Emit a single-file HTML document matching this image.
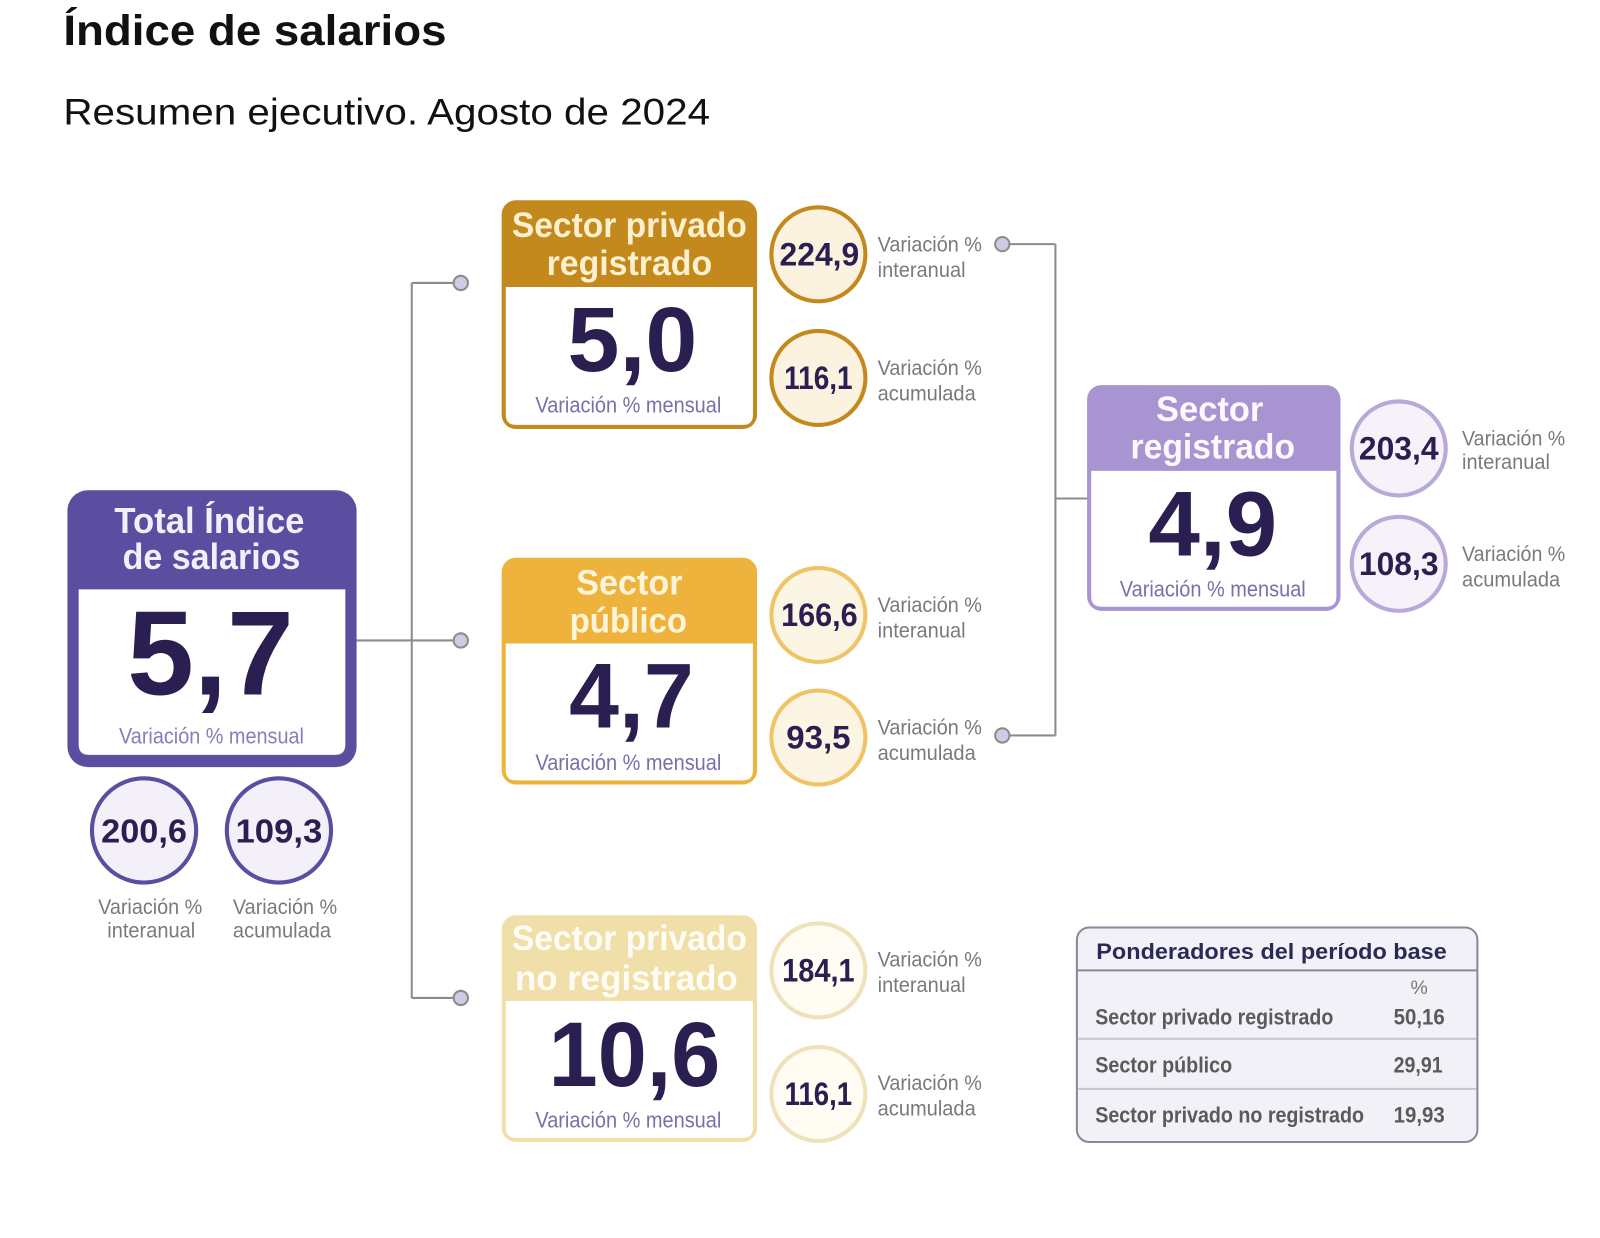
<!DOCTYPE html>
<html>
<head>
<meta charset="utf-8">
<style>
  html,body{margin:0;padding:0;background:#ffffff;}
  svg{display:block;}
  text{font-family:"Liberation Sans", Arial, sans-serif;}
</style>
</head>
<body>
<svg width="1600" height="1238" viewBox="0 0 1566 1212" preserveAspectRatio="none" xmlns="http://www.w3.org/2000/svg">
  <rect x="0" y="0" width="1566" height="1212" fill="#ffffff"/>

  <!-- Titles -->
  <text x="62" y="44" font-size="42" font-weight="bold" fill="#111" textLength="375" lengthAdjust="spacingAndGlyphs">Índice de salarios</text>
  <text x="62" y="122" font-size="36" fill="#111" textLength="633" lengthAdjust="spacingAndGlyphs">Resumen ejecutivo. Agosto de 2024</text>

  <!-- Left connectors -->
  <g stroke="#8c8c8c" stroke-width="2" fill="none">
    <line x1="349" y1="627" x2="445" y2="627"/>
    <line x1="403" y1="277" x2="403" y2="977"/>
    <line x1="403" y1="277" x2="445" y2="277"/>
    <line x1="403" y1="977" x2="445" y2="977"/>
  </g>
  <g fill="#d2cae4" stroke="#8c8c8c" stroke-width="2">
    <circle cx="451" cy="277" r="7"/>
    <circle cx="451" cy="627" r="7"/>
    <circle cx="451" cy="977" r="7"/>
  </g>

  <!-- Right connectors -->
  <g stroke="#8c8c8c" stroke-width="2" fill="none">
    <line x1="988" y1="239" x2="1033" y2="239"/>
    <line x1="1033" y1="239" x2="1033" y2="720"/>
    <line x1="988" y1="720" x2="1033" y2="720"/>
    <line x1="1033" y1="488" x2="1065" y2="488"/>
  </g>
  <g fill="#d2cae4" stroke="#8c8c8c" stroke-width="2">
    <circle cx="981" cy="239" r="7"/>
    <circle cx="981" cy="720" r="7"/>
  </g>

  <!-- Total box -->
  <rect x="66" y="480" width="283" height="271" rx="20" fill="#5b4d9f"/>
  <path d="M77,577 H338 V729 Q338,739 328,739 H87 Q77,739 77,729 Z" fill="#ffffff"/>
  <text x="205" y="522" font-size="35" font-weight="bold" fill="#f3effa" text-anchor="middle" textLength="186" lengthAdjust="spacingAndGlyphs">Total Índice</text>
  <text x="207" y="557" font-size="35" font-weight="bold" fill="#f3effa" text-anchor="middle" textLength="174" lengthAdjust="spacingAndGlyphs">de salarios</text>
  <text x="206" y="680" font-size="117" font-weight="bold" fill="#2a1f50" text-anchor="middle" textLength="163" lengthAdjust="spacingAndGlyphs">5,7</text>
  <text x="207" y="728" font-size="22" fill="#8a7cbb" text-anchor="middle" textLength="181" lengthAdjust="spacingAndGlyphs">Variación % mensual</text>

  <!-- Total circles -->
  <circle cx="141" cy="813" r="51" fill="#f3f0f9" stroke="#5b4d9f" stroke-width="4"/>
  <circle cx="273" cy="813" r="51" fill="#f3f0f9" stroke="#5b4d9f" stroke-width="4"/>
  <text x="141" y="825" font-size="33" font-weight="bold" fill="#2a1f50" text-anchor="middle" textLength="84" lengthAdjust="spacingAndGlyphs">200,6</text>
  <text x="273" y="825" font-size="33" font-weight="bold" fill="#2a1f50" text-anchor="middle" textLength="85" lengthAdjust="spacingAndGlyphs">109,3</text>
  <text x="147" y="895" font-size="21" fill="#7a7a7a" text-anchor="middle" textLength="102" lengthAdjust="spacingAndGlyphs">Variación %</text>
  <text x="148" y="918" font-size="21" fill="#7a7a7a" text-anchor="middle" textLength="86" lengthAdjust="spacingAndGlyphs">interanual</text>
  <text x="279" y="895" font-size="21" fill="#7a7a7a" text-anchor="middle" textLength="102" lengthAdjust="spacingAndGlyphs">Variación %</text>
  <text x="276" y="918" font-size="21" fill="#7a7a7a" text-anchor="middle" textLength="96" lengthAdjust="spacingAndGlyphs">acumulada</text>

  <!-- Box 1: Sector privado registrado -->
  <rect x="491" y="196" width="250" height="224" rx="14" fill="#c4891d"/>
  <path d="M495,281 H737 V406 Q737,416 727,416 H505 Q495,416 495,406 Z" fill="#ffffff"/>
  <text x="616" y="232" font-size="34" font-weight="bold" fill="#fdf0cf" text-anchor="middle" textLength="230" lengthAdjust="spacingAndGlyphs">Sector privado</text>
  <text x="616" y="269" font-size="34" font-weight="bold" fill="#fdf0cf" text-anchor="middle" textLength="162" lengthAdjust="spacingAndGlyphs">registrado</text>
  <text x="619" y="363" font-size="90" font-weight="bold" fill="#2a1f50" text-anchor="middle" textLength="127" lengthAdjust="spacingAndGlyphs">5,0</text>
  <text x="615" y="404" font-size="22" fill="#7d6ea9" text-anchor="middle" textLength="182" lengthAdjust="spacingAndGlyphs">Variación % mensual</text>

  <circle cx="801" cy="249" r="46" fill="#fcf2e0" stroke="#c4891d" stroke-width="4"/>
  <circle cx="801" cy="370" r="46" fill="#fcf2e0" stroke="#c4891d" stroke-width="4"/>
  <text x="802" y="260" font-size="32" font-weight="bold" fill="#2a1f50" text-anchor="middle" textLength="78" lengthAdjust="spacingAndGlyphs">224,9</text>
  <text x="801" y="381" font-size="32" font-weight="bold" fill="#2a1f50" text-anchor="middle" textLength="67" lengthAdjust="spacingAndGlyphs">116,1</text>
  <text x="859" y="246" font-size="21" fill="#7a7a7a" textLength="102" lengthAdjust="spacingAndGlyphs">Variación %</text>
  <text x="859" y="271" font-size="21" fill="#7a7a7a" textLength="86" lengthAdjust="spacingAndGlyphs">interanual</text>
  <text x="859" y="367" font-size="21" fill="#7a7a7a" textLength="102" lengthAdjust="spacingAndGlyphs">Variación %</text>
  <text x="859" y="392" font-size="21" fill="#7a7a7a" textLength="96" lengthAdjust="spacingAndGlyphs">acumulada</text>

  <!-- Box 2: Sector público -->
  <rect x="491" y="546" width="250" height="222" rx="14" fill="#edb33d"/>
  <path d="M495,630 H737 V754 Q737,764 727,764 H505 Q495,764 495,754 Z" fill="#ffffff"/>
  <text x="616" y="582" font-size="34" font-weight="bold" fill="#fff4d9" text-anchor="middle" textLength="104" lengthAdjust="spacingAndGlyphs">Sector</text>
  <text x="615" y="619" font-size="34" font-weight="bold" fill="#fff4d9" text-anchor="middle" textLength="115" lengthAdjust="spacingAndGlyphs">público</text>
  <text x="618" y="712" font-size="90" font-weight="bold" fill="#2a1f50" text-anchor="middle" textLength="122" lengthAdjust="spacingAndGlyphs">4,7</text>
  <text x="615" y="754" font-size="22" fill="#7d6ea9" text-anchor="middle" textLength="182" lengthAdjust="spacingAndGlyphs">Variación % mensual</text>

  <circle cx="801" cy="602" r="46" fill="#fdf5e3" stroke="#eec466" stroke-width="4"/>
  <circle cx="801" cy="722" r="46" fill="#fdf5e3" stroke="#eec466" stroke-width="4"/>
  <text x="802" y="613" font-size="32" font-weight="bold" fill="#2a1f50" text-anchor="middle" textLength="75" lengthAdjust="spacingAndGlyphs">166,6</text>
  <text x="801" y="733" font-size="32" font-weight="bold" fill="#2a1f50" text-anchor="middle" textLength="63" lengthAdjust="spacingAndGlyphs">93,5</text>
  <text x="859" y="599" font-size="21" fill="#7a7a7a" textLength="102" lengthAdjust="spacingAndGlyphs">Variación %</text>
  <text x="859" y="624" font-size="21" fill="#7a7a7a" textLength="86" lengthAdjust="spacingAndGlyphs">interanual</text>
  <text x="859" y="719" font-size="21" fill="#7a7a7a" textLength="102" lengthAdjust="spacingAndGlyphs">Variación %</text>
  <text x="859" y="744" font-size="21" fill="#7a7a7a" textLength="96" lengthAdjust="spacingAndGlyphs">acumulada</text>

  <!-- Box 3: Sector privado no registrado -->
  <rect x="491" y="896" width="250" height="222" rx="14" fill="#f0dfa8"/>
  <path d="M495,980 H737 V1104 Q737,1114 727,1114 H505 Q495,1114 495,1104 Z" fill="#ffffff"/>
  <text x="616" y="930" font-size="34" font-weight="bold" fill="#fffdf6" text-anchor="middle" textLength="230" lengthAdjust="spacingAndGlyphs">Sector privado</text>
  <text x="613" y="969" font-size="34" font-weight="bold" fill="#fffdf6" text-anchor="middle" textLength="218" lengthAdjust="spacingAndGlyphs">no registrado</text>
  <text x="621" y="1063" font-size="90" font-weight="bold" fill="#2a1f50" text-anchor="middle" textLength="168" lengthAdjust="spacingAndGlyphs">10,6</text>
  <text x="615" y="1104" font-size="22" fill="#7d6ea9" text-anchor="middle" textLength="182" lengthAdjust="spacingAndGlyphs">Variación % mensual</text>

  <circle cx="801" cy="950" r="46" fill="#fffcf3" stroke="#eee2bb" stroke-width="4"/>
  <circle cx="801" cy="1071" r="46" fill="#fffcf3" stroke="#eee2bb" stroke-width="4"/>
  <text x="801" y="961" font-size="32" font-weight="bold" fill="#2a1f50" text-anchor="middle" textLength="71" lengthAdjust="spacingAndGlyphs">184,1</text>
  <text x="801" y="1082" font-size="32" font-weight="bold" fill="#2a1f50" text-anchor="middle" textLength="66" lengthAdjust="spacingAndGlyphs">116,1</text>
  <text x="859" y="946" font-size="21" fill="#7a7a7a" textLength="102" lengthAdjust="spacingAndGlyphs">Variación %</text>
  <text x="859" y="971" font-size="21" fill="#7a7a7a" textLength="86" lengthAdjust="spacingAndGlyphs">interanual</text>
  <text x="859" y="1067" font-size="21" fill="#7a7a7a" textLength="102" lengthAdjust="spacingAndGlyphs">Variación %</text>
  <text x="859" y="1092" font-size="21" fill="#7a7a7a" textLength="96" lengthAdjust="spacingAndGlyphs">acumulada</text>

  <!-- Sector registrado box -->
  <rect x="1064" y="377" width="248" height="221" rx="14" fill="#a894d0"/>
  <path d="M1068,461 H1308 V584 Q1308,594 1298,594 H1078 Q1068,594 1068,584 Z" fill="#ffffff"/>
  <text x="1184" y="412" font-size="34" font-weight="bold" fill="#fbf9fe" text-anchor="middle" textLength="105" lengthAdjust="spacingAndGlyphs">Sector</text>
  <text x="1187" y="449" font-size="34" font-weight="bold" fill="#fbf9fe" text-anchor="middle" textLength="161" lengthAdjust="spacingAndGlyphs">registrado</text>
  <text x="1187" y="544" font-size="90" font-weight="bold" fill="#2a1f50" text-anchor="middle" textLength="126" lengthAdjust="spacingAndGlyphs">4,9</text>
  <text x="1187" y="584" font-size="22" fill="#7d6ea9" text-anchor="middle" textLength="182" lengthAdjust="spacingAndGlyphs">Variación % mensual</text>

  <circle cx="1369" cy="439" r="46" fill="#f5f2fa" stroke="#b8a9d8" stroke-width="4"/>
  <circle cx="1369" cy="552" r="46" fill="#f5f2fa" stroke="#b8a9d8" stroke-width="4"/>
  <text x="1369" y="450" font-size="32" font-weight="bold" fill="#2a1f50" text-anchor="middle" textLength="78" lengthAdjust="spacingAndGlyphs">203,4</text>
  <text x="1369" y="563" font-size="32" font-weight="bold" fill="#2a1f50" text-anchor="middle" textLength="78" lengthAdjust="spacingAndGlyphs">108,3</text>
  <text x="1431" y="436" font-size="21" fill="#7a7a7a" textLength="101" lengthAdjust="spacingAndGlyphs">Variación %</text>
  <text x="1431" y="459" font-size="21" fill="#7a7a7a" textLength="86" lengthAdjust="spacingAndGlyphs">interanual</text>
  <text x="1431" y="549" font-size="21" fill="#7a7a7a" textLength="101" lengthAdjust="spacingAndGlyphs">Variación %</text>
  <text x="1431" y="574" font-size="21" fill="#7a7a7a" textLength="96" lengthAdjust="spacingAndGlyphs">acumulada</text>

  <!-- Table -->
  <rect x="1054" y="908" width="392" height="210" rx="12" fill="#f3f1f8" stroke="#8d8599" stroke-width="2"/>
  <text x="1073" y="939" font-size="22" font-weight="bold" fill="#2b2a55" textLength="343" lengthAdjust="spacingAndGlyphs">Ponderadores del período base</text>
  <line x1="1055" y1="950" x2="1445" y2="950" stroke="#8d8599" stroke-width="2"/>
  <text x="1389" y="973" font-size="19" fill="#777" text-anchor="middle">%</text>
  <text x="1072" y="1003" font-size="22" font-weight="bold" fill="#5a5a5a" textLength="233" lengthAdjust="spacingAndGlyphs">Sector privado registrado</text>
  <text x="1389" y="1003" font-size="22" font-weight="bold" fill="#5a5a5a" text-anchor="middle" textLength="50" lengthAdjust="spacingAndGlyphs">50,16</text>
  <line x1="1055" y1="1017" x2="1445" y2="1017" stroke="#c9c2d3" stroke-width="2"/>
  <text x="1072" y="1050" font-size="22" font-weight="bold" fill="#5a5a5a" textLength="134" lengthAdjust="spacingAndGlyphs">Sector público</text>
  <text x="1388" y="1050" font-size="22" font-weight="bold" fill="#5a5a5a" text-anchor="middle" textLength="48" lengthAdjust="spacingAndGlyphs">29,91</text>
  <line x1="1055" y1="1066" x2="1445" y2="1066" stroke="#c9c2d3" stroke-width="2"/>
  <text x="1072" y="1099" font-size="22" font-weight="bold" fill="#5a5a5a" textLength="263" lengthAdjust="spacingAndGlyphs">Sector privado no registrado</text>
  <text x="1389" y="1099" font-size="22" font-weight="bold" fill="#5a5a5a" text-anchor="middle" textLength="50" lengthAdjust="spacingAndGlyphs">19,93</text>
</svg>
</body>
</html>
